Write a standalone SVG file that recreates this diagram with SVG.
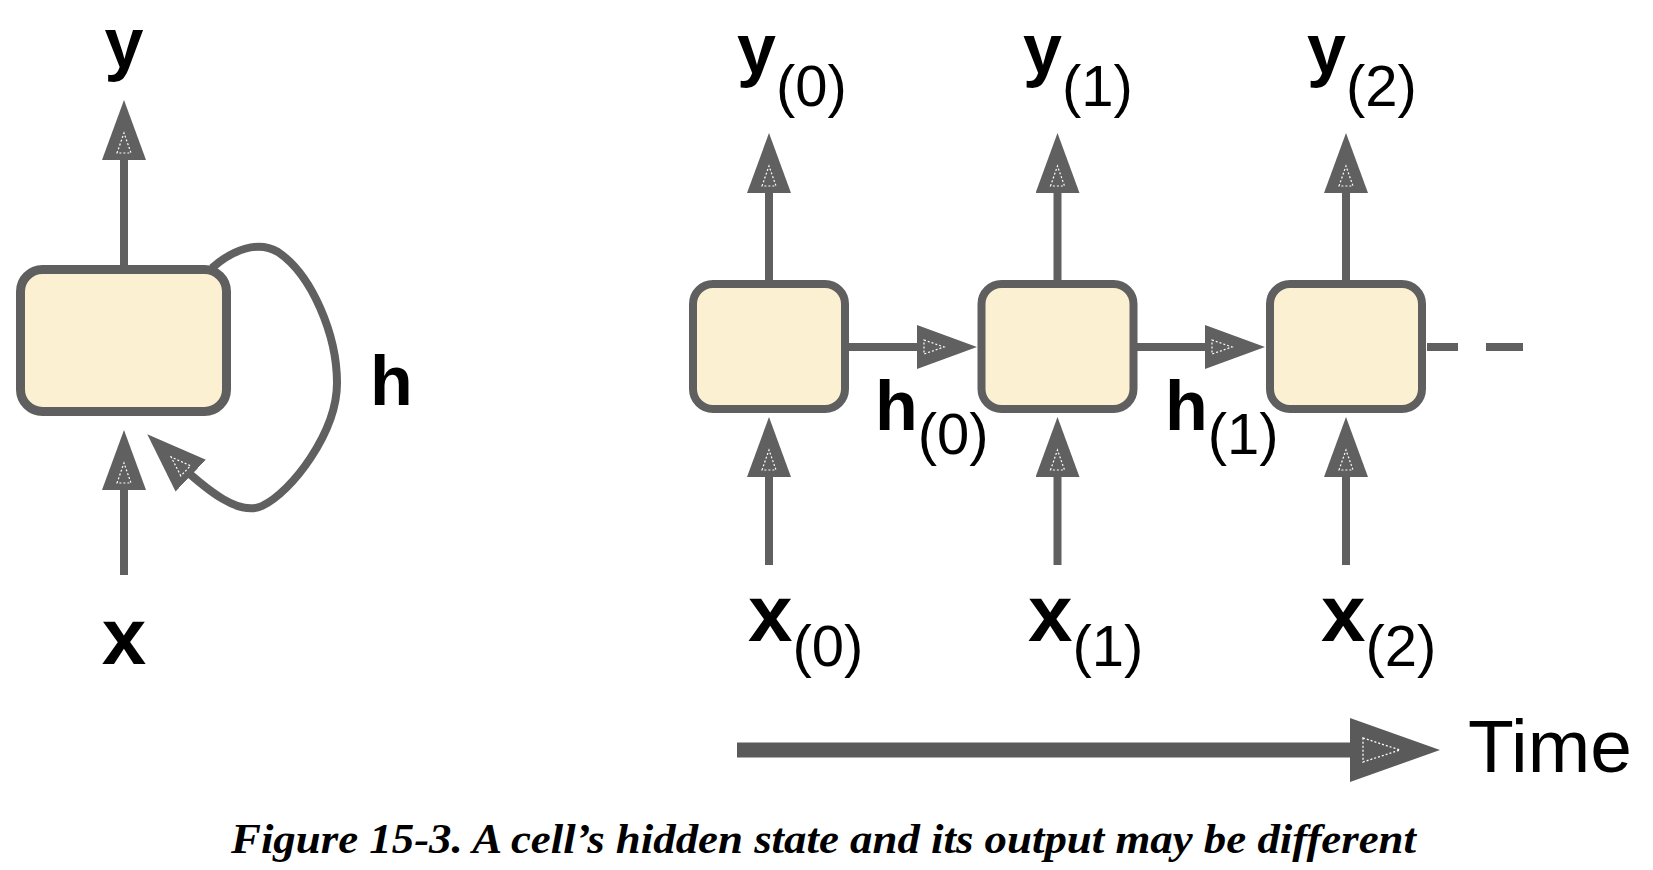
<svg xmlns="http://www.w3.org/2000/svg" width="1653" height="870" viewBox="0 0 1653 870">
<style>
.cell{fill:#FCF0D3;stroke:#5F5F5F;stroke-width:8}
.wire{fill:none;stroke:#606060;stroke-width:8}
.lbl{font-family:"Liberation Sans",Arial,sans-serif;font-weight:bold;font-size:70px;fill:#000}
.bx{font-size:80px}
.sub{font-weight:normal;font-size:58px}
.cap{font-family:"Liberation Serif","Times New Roman",serif;font-weight:bold;font-style:italic;font-size:42px;fill:#000}
</style>
<defs>
<marker id="ah" viewBox="0 0 60 44" refX="30" refY="22" markerWidth="60" markerHeight="44" markerUnits="userSpaceOnUse" orient="auto">
<path d="M0,0 L60,22 L0,44 Z" fill="#606060"/>
<path d="M7,15 L27,22 L7,29 Z" fill="none" stroke="#fff" stroke-width="1.2" stroke-dasharray="2 2"/>
</marker>
<marker id="ahbig" viewBox="0 0 90 64" refX="45" refY="32" markerWidth="90" markerHeight="64" markerUnits="userSpaceOnUse" orient="auto">
<path d="M0,0 L90,32 L0,64 Z" fill="#5A5A5A"/>
<path d="M13,20 L50,32 L13,44 Z" fill="none" stroke="#fff" stroke-width="1.3" stroke-dasharray="2 2"/>
</marker>
</defs>

<g id="connectors">
<line class="wire" x1="124" y1="268" x2="124" y2="130" marker-end="url(#ah)"/>
<line class="wire" x1="124" y1="575" x2="124" y2="460" marker-end="url(#ah)"/>
<path class="wire" d="M 212 268 C 232 250, 258 240, 278 252 C 312 275, 337 335, 337 383 C 337 432, 292 492, 262 506 C 240 516, 210 494, 169 455" marker-end="url(#ah)"/>

<line class="wire" x1="769" y1="282" x2="769" y2="163" marker-end="url(#ah)"/>
<line class="wire" x1="1057.5" y1="282" x2="1057.5" y2="163" marker-end="url(#ah)"/>
<line class="wire" x1="1346" y1="282" x2="1346" y2="163" marker-end="url(#ah)"/>

<line class="wire" x1="769" y1="565" x2="769" y2="447" marker-end="url(#ah)"/>
<line class="wire" x1="1057.5" y1="565" x2="1057.5" y2="447" marker-end="url(#ah)"/>
<line class="wire" x1="1346" y1="565" x2="1346" y2="447" marker-end="url(#ah)"/>

<line class="wire" x1="849" y1="347" x2="947" y2="347" marker-end="url(#ah)"/>
<line class="wire" x1="1137" y1="347" x2="1235" y2="347" marker-end="url(#ah)"/>
<line class="wire" x1="1427" y1="347" x2="1458" y2="347"/>
<line class="wire" x1="1486" y1="347" x2="1523" y2="347"/>

<line x1="737" y1="750" x2="1395" y2="750" stroke="#5A5A5A" stroke-width="15" marker-end="url(#ahbig)"/>
</g>

<g id="node-rnn">
<rect class="cell" x="20.5" y="269.5" width="206" height="142" rx="22" style="stroke-width:9"/>
</g>
<g id="node-t0">
<rect class="cell" x="693" y="284" width="152" height="125" rx="20"/>
</g>
<g id="node-t1">
<rect class="cell" x="981.5" y="284" width="152" height="125" rx="20"/>
</g>
<g id="node-t2">
<rect class="cell" x="1270" y="284" width="152" height="125" rx="20"/>
</g>

<g id="labels">
<text class="lbl" x="124" y="67" text-anchor="middle">y</text>
<text class="lbl bx" x="124" y="664" text-anchor="middle">x</text>
<text class="lbl" x="370" y="405">h</text>

<text class="lbl" x="737" y="73">y<tspan class="sub" dy="33">(0)</tspan></text>
<text class="lbl" x="1023" y="73">y<tspan class="sub" dy="33">(1)</tspan></text>
<text class="lbl" x="1307" y="73">y<tspan class="sub" dy="33">(2)</tspan></text>

<text class="lbl" x="875" y="430">h<tspan class="sub" dy="24">(0)</tspan></text>
<text class="lbl" x="1165" y="430">h<tspan class="sub" dy="24">(1)</tspan></text>

<text class="lbl bx" x="748" y="641">x<tspan class="sub" dy="25">(0)</tspan></text>
<text class="lbl bx" x="1028" y="641">x<tspan class="sub" dy="25">(1)</tspan></text>
<text class="lbl bx" x="1321" y="641">x<tspan class="sub" dy="25">(2)</tspan></text>

<text x="1468" y="772" style="font-family:'Liberation Sans',Arial,sans-serif;font-size:75px;fill:#000">Time</text>
<text class="cap" x="231" y="853" textLength="1185" lengthAdjust="spacingAndGlyphs">Figure 15-3. A cell’s hidden state and its output may be different</text>
</g>
</svg>
